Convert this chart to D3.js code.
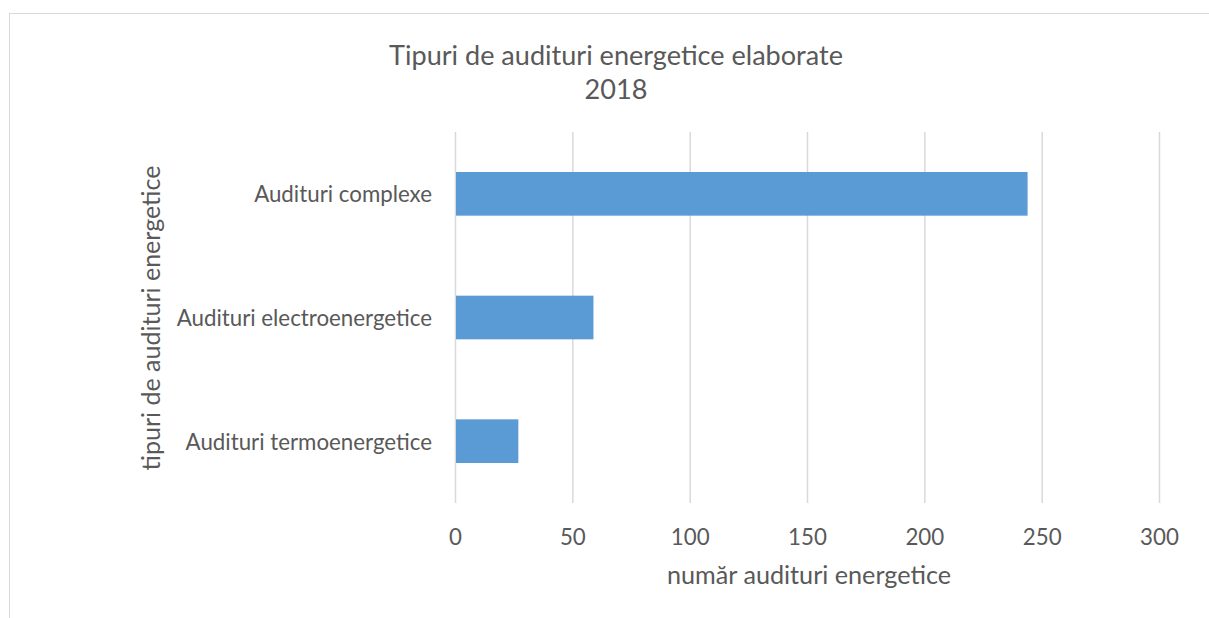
<!DOCTYPE html>
<html>
<head>
<meta charset="utf-8">
<script src="https://cdn.jsdelivr.net/npm/d3@7"></script>
<style>
  html, body { margin: 0; padding: 0; background: #fff; }
  svg { display: block; }
  text { font-family: Lato, "Open Sans", sans-serif; fill: #595959; }
</style>
</head>
<body>
<svg id="chart" width="1209" height="618"></svg>
<script>
const categories = ["Audituri complexe", "Audituri electroenergetice", "Audituri termoenergetice"];
const values = [244, 59, 27];
const xTicks = [0, 50, 100, 150, 200, 250, 300];
const titleLines = ["Tipuri de audituri energetice elaborate", "2018"];
const xTitle = "număr audituri energetice";
const yTitle = "tipuri de audituri energetice";

const svg = d3.select("#chart");

// outer border
svg.append("rect")
  .attr("x", 9.5).attr("y", 13.5)
  .attr("width", 1220).attr("height", 640)
  .attr("fill", "none").attr("stroke", "#d9d9d9").attr("stroke-width", 1);

const x = d3.scaleLinear().domain([0, 300]).range([455, 1159]);
const y = d3.scaleBand().domain(categories).range([132, 503])
  .paddingInner(0.647).paddingOuter(0.3235);

function fit(sel, target) {
  const node = sel.node();
  let fs = parseFloat(sel.attr("font-size"));
  const w = node.getComputedTextLength();
  sel.attr("font-size", (fs * target / w).toFixed(2));
}

// gridlines
svg.append("g")
  .selectAll("line").data(xTicks).join("line")
  .attr("x1", d => x(d) + 0.5).attr("x2", d => x(d) + 0.5)
  .attr("y1", 132).attr("y2", 503)
  .attr("stroke", "#d9d9d9").attr("stroke-width", 1.5);

// bars
svg.append("g")
  .selectAll("rect").data(categories).join("rect")
  .attr("x", x(0) + 1)
  .attr("y", d => y(d))
  .attr("width", (d, i) => x(values[i]) - x(0) - 1)
  .attr("height", y.bandwidth())
  .attr("fill", "#5b9bd5");

// x axis tick labels
const xAxis = d3.axisBottom(x).tickValues(xTicks).tickSize(0).tickPadding(0);
const gx = svg.append("g").attr("transform", "translate(0,529)").call(xAxis);
gx.select(".domain").remove();
gx.selectAll("text").attr("font-size", 17).attr("fill", "#595959")
  .attr("font-family", "Lato, 'Open Sans', sans-serif");

// y axis category labels
const yAxis = d3.axisLeft(y).tickSize(0).tickPadding(0);
const gy = svg.append("g").attr("transform", "translate(432,0)").call(yAxis);
gy.select(".domain").remove();
gy.selectAll("text").attr("font-size", 17).attr("fill", "#595959")
  .attr("dy", "0.38em")
  .attr("font-family", "Lato, 'Open Sans', sans-serif");
fit(gy.select("text"), 178);
const catFs = gy.select("text").attr("font-size");
gy.selectAll("text").attr("font-size", catFs);
gx.selectAll("text").attr("font-size", catFs);

// title
const t1 = svg.append("text").attr("x", 616).attr("y", 65)
  .attr("text-anchor", "middle").attr("font-size", 24).text(titleLines[0]);
fit(t1, 454);
svg.append("text").attr("x", 616).attr("y", 99)
  .attr("text-anchor", "middle").attr("font-size", t1.attr("font-size")).text(titleLines[1]);

// x title
const xt = svg.append("text").attr("x", 809).attr("y", 584)
  .attr("text-anchor", "middle").attr("font-size", 20).text(xTitle);
fit(xt, 284);

// y title
const yt = svg.append("text")
  .attr("transform", "translate(160,318) rotate(-90)")
  .attr("text-anchor", "middle").attr("font-size", 20).text(yTitle);
fit(yt, 305);
</script>
</body>
</html>
